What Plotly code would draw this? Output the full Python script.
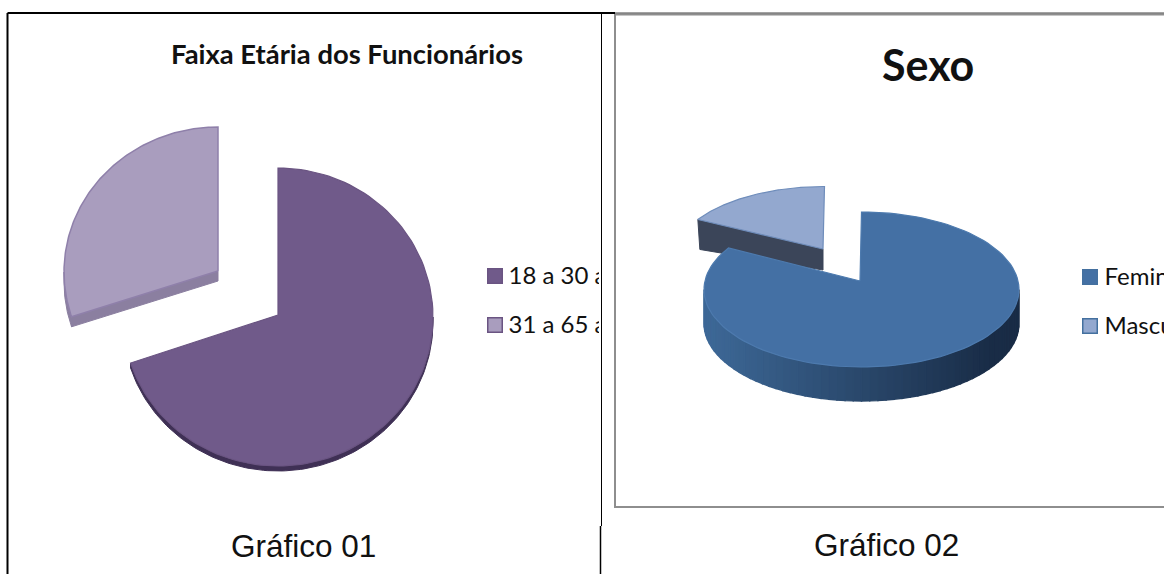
import numpy as np
import plotly.graph_objects as go

# Data
age_title = "Faixa Etária dos Funcionários"
age_labels = ["18 a 30 anos", "31 a 65 anos"]
age_values = [70, 30]
sex_title = "Sexo"
sex_labels = ["Feminino", "Masculino"]
sex_values = [84, 16]
captions = ["Gráfico 01", "Gráfico 02"]

AGE_COLORS = ["#705a8a", "#a99dbe"]
SEX_COLORS = ["#4470a4", "#93a8cf"]

fig = go.Figure()


def arc(c, r, t0, t1, n=120):
    """Outer arc of a tilted pie slice, t0/t1 as fractions of the whole pie."""
    t = np.radians(np.linspace(t0, t1, n) * 360)
    return c[0] + r[0] * np.sin(t), c[1] - r[1] * np.cos(t)


def poly(x, y, fill, line=None, width=1.0):
    fig.add_trace(go.Scatter(
        x=list(x) + [x[0]], y=list(y) + [y[0]], mode="lines", fill="toself",
        fillcolor=fill, line=dict(color=line or fill, width=width),
        hoverinfo="skip", showlegend=False))


def wall(x, y, depth, fill, width=1.0):
    d = np.broadcast_to(depth, np.shape(x))
    poly(np.r_[x, x[::-1]], np.r_[y, (y + d)[::-1]], fill, width=width)


def top(apex, c, r, t0, t1, fill, line, width=1.5):
    x, y = arc(c, r, t0, t1)
    poly(np.r_[apex[0], x], np.r_[apex[1], y], fill, line, width)
    return x, y


# ---- Chart 1
f = age_values[0] / sum(age_values)
# pulled-out small slice
a2, c2, r2 = (218, 271), (218, 272), (154, 145)
x, y = arc(c2, r2, f, 0.75, 30)
wall(x, y, 10, "#8b7fa0")
tipx, tipy = arc(c2, r2, f, f, 2)
wall(np.array([tipx[0], a2[0]]), np.array([tipy[0], a2[1]]), 10, "#8b7fa0")
top(a2, c2, r2, f, 1, AGE_COLORS[1], "#8f80aa")
# large slice
a1, c1, r1 = (278, 315), (278, 317), (155, 149)
x, y = arc(c1, r1, 0.25, f, 120)
wall(x, y, 5, "#3f3055")
top(a1, c1, r1, 0, f, AGE_COLORS[0], "#6a5482", 1.2)

# ---- Chart 2
g = sex_values[0] / sum(sex_values)
# pulled-out small slice
b2, d2, s2 = (823, 249), (824.5, 257.5), (150, 71)
tx, ty = arc(d2, s2, g, g, 2)
poly([tx[0], b2[0], b2[0], tx[0] + 2], [ty[0], b2[1], b2[1] + 21, ty[0] + 30], "#3b4559")
top(b2, d2, s2, g, 1, SEX_COLORS[1], "#6f8dbb", 1.2)
# large slice: shaded wall
b1, d1, s1 = (860, 281), (861.5, 289.5), (157.5, 77.5)
dark, light = np.array([0x19, 0x2c, 0x46]), np.array([0x3e, 0x69, 0x98])
edges = np.linspace(0.25, 0.75, 61)
for e0, e1 in zip(edges[:-1], edges[1:]):
    x, y = arc(d1, s1, e0, e1, 6)
    k = min(1.0, (x.mean() - 704) / 290)
    col = light + (dark - light) * k
    wall(x, y, 34, "rgb(%d,%d,%d)" % tuple(col), width=1.4)
top(b1, d1, s1, 0, g, SEX_COLORS[0], "#4d7aae", 1.2)

# ---- Legends as text marks
FONT = "Lato, Carlito, sans-serif"
legend_1_y, legend_2_y = [278, 327], [279, 328]
for i, lab in enumerate(age_labels):
    fig.add_trace(go.Scatter(
        x=[495], y=[legend_1_y[i] - 2], mode="markers", hoverinfo="skip", showlegend=False,
        marker=dict(symbol="square", size=14.5, color=AGE_COLORS[i], line=dict(color="#6a5482", width=1.5))))
    fig.add_trace(go.Scatter(
        x=[508.5], y=[legend_1_y[i]], mode="text", text=[lab], textposition="middle right",
        hoverinfo="skip", showlegend=False, xaxis="x2", yaxis="y2", cliponaxis=True,
        textfont=dict(family=FONT, size=24, color="#111111")))
for i, lab in enumerate(sex_labels):
    fig.add_trace(go.Scatter(
        x=[1090], y=[legend_2_y[i] - 2], mode="markers", hoverinfo="skip", showlegend=False,
        marker=dict(symbol="square", size=14.5, color=SEX_COLORS[i], line=dict(color="#44709f", width=1.5))))
    fig.add_trace(go.Scatter(
        x=[1104.5], y=[legend_2_y[i]], mode="text", text=[lab], textposition="middle right",
        hoverinfo="skip", showlegend=False,
        textfont=dict(family=FONT, size=24, color="#111111")))

BLACK = "#000000"
GRAY = "#8e8e8e"
shapes = [
    dict(type="rect", x0=615, x1=1175, y0=14.5, y1=507, line=dict(color=GRAY, width=2), layer="above"),
    dict(type="line", x0=7.5, x1=615, y0=13, y1=13, line=dict(color=BLACK, width=2), layer="above"),
    dict(type="line", x0=615, x1=1164, y0=13, y1=13, line=dict(color="#444444", width=1), layer="above"),
    dict(type="line", x0=7.5, x1=7.5, y0=13, y1=574, line=dict(color=BLACK, width=2), layer="above"),
    dict(type="line", x0=601.5, x1=601.5, y0=13, y1=526, line=dict(color=BLACK, width=1), layer="above"),
    dict(type="line", x0=600.5, x1=600.5, y0=526, y1=574, line=dict(color=BLACK, width=1.5), layer="above"),
]

def label(text, x, y, size, family, bold=False):
    return dict(text=f"<b>{text}</b>" if bold else text, x=x, y=y, xref="x", yref="y",
                showarrow=False, xanchor="center", yanchor="middle",
                font=dict(family=family, size=size, color="#111111"))

annotations = [
    label(age_title, 346.5, 53, 27.4, FONT, True),
    label(sex_title, 928, 64, 43, FONT, True),
    label(captions[0], 303, 546, 31.5, "Liberation Sans, Arial, sans-serif"),
    label(captions[1], 886, 545, 31.5, "Liberation Sans, Arial, sans-serif"),
]

fig.update_layout(
    width=1164, height=574, margin=dict(l=0, r=0, t=0, b=0),
    paper_bgcolor="#ffffff", plot_bgcolor="rgba(0,0,0,0)", showlegend=False,
    xaxis=dict(range=[0, 1164], domain=[0, 1], visible=False, fixedrange=True),
    yaxis=dict(range=[574, 0], domain=[0, 1], visible=False, fixedrange=True),
    xaxis2=dict(range=[0, 599], domain=[0, 599 / 1164], anchor="y2", visible=False, fixedrange=True),
    yaxis2=dict(range=[574, 0], domain=[0, 1], anchor="x2", visible=False, fixedrange=True),
    shapes=shapes, annotations=annotations,
)
fig.write_html("out.html", config=dict(displayModeBar=False),
               post_script="document.body.style.margin='0';document.body.style.overflow='hidden';")
